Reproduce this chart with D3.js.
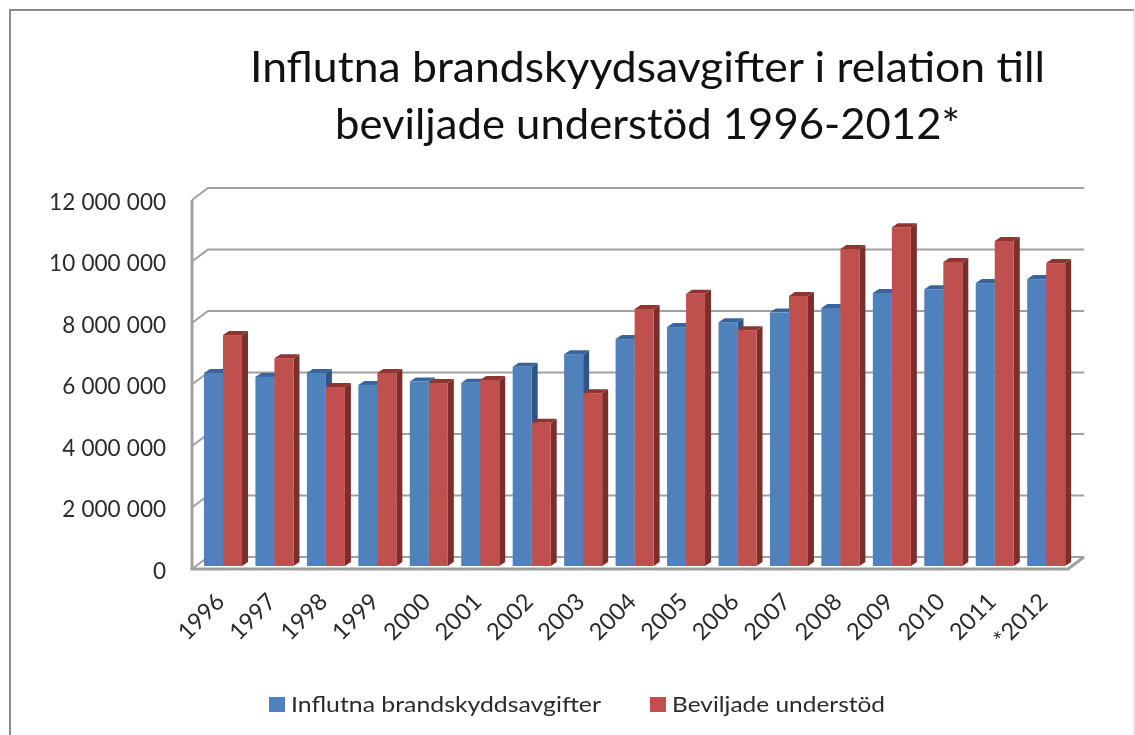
<!DOCTYPE html>
<html><head><meta charset="utf-8">
<script src="https://cdn.jsdelivr.net/npm/d3@7"></script>
<style>
html,body{margin:0;padding:0;background:#fff;overflow:hidden}
svg{display:block;filter:blur(0.45px)}
text{font-family:Lato,"Open Sans",sans-serif}
</style></head><body><svg id="c" width="1135" height="735"></svg>
<script>
const years=["1996","1997","1998","1999","2000","2001","2002","2003","2004","2005","2006","2007","2008","2009","2010","2011","*2012"];
const fees=[6280000,6150000,6280000,5890000,6000000,5960000,6480000,6890000,7380000,7770000,7930000,8240000,8390000,8880000,9000000,9200000,9330000];
const grants=[7510000,6760000,5820000,6280000,5950000,6050000,4660000,5620000,8360000,8850000,7670000,8780000,10310000,11020000,9890000,10570000,9850000];
const seriesNames=["Influtna brandskyddsavgifter","Beviljade understöd"];
const titleLines=["Influtna brandskyydsavgifter i relation till","beviljade understöd 1996-2012*"];
const yTicks=[0,2000000,4000000,6000000,8000000,10000000,12000000];

const C={blue:"#4f81bd",blueTop:"#39659a",blueSide:"#2f5486",red:"#c0504d",redTop:"#8f3431",redSide:"#7b2e2c",grid:"#a0a0a0",text:"#2b2b2b"};
const svg=d3.select("#c");
// frame
svg.append("path").attr("d","M1134,10H10V735").attr("fill","none").attr("stroke","#8c8c8c").attr("stroke-width",2);
svg.append("path").attr("d","M1134,10V735").attr("fill","none").attr("stroke","#d0d0d0").attr("stroke-width",1);
// title
const tl=[[250,82,795],[335,139,625]];
svg.selectAll(".t").data(titleLines).join("text").attr("class","t")
 .attr("x",(d,i)=>tl[i][0]).attr("y",(d,i)=>tl[i][1]).attr("textLength",(d,i)=>tl[i][2]).attr("lengthAdjust","spacingAndGlyphs")
 .attr("font-size",43).attr("fill","#111").text(d=>d);
// scales
const yF=d3.scaleLinear().domain([0,12000000]).range([569,200]);
const yB=d3.scaleLinear().domain([0,12000000]).range([566,197]);
const x=d3.scaleBand().domain(years).range([204,1065.2]).paddingInner(0.2614).paddingOuter(0);
const depth=16,rise=12,bd=6,br=4,xL=192,xR=1068;
// gridlines (wall)
const g=svg.append("g").attr("fill","none").attr("stroke",C.grid).attr("stroke-width",2);
g.selectAll(".gl").data(yTicks).join("path").attr("class","gl")
 .attr("d",v=>`M${xL},${yF(v)}L${xL+depth},${yF(v)-rise}H${xR+depth}`);
g.append("path").attr("d",`M${xL},${yF(12000000)}V${yF(0)}H${xR}L${xR+depth},${yF(0)-rise}`).attr("stroke-width",3);
// bars
const w=x.bandwidth()/2;
function bar(gr,x0,v,f,t,s){
  const yt=yB(v),yb=yB(0);
  gr.append("path").attr("fill",s).attr("d",`M${x0+w},${yt}L${x0+w+bd},${yt-br}V${yb-br}L${x0+w},${yb}Z`);
  gr.append("path").attr("fill",t).attr("d",`M${x0},${yt}L${x0+bd},${yt-br}H${x0+w+bd}L${x0+w},${yt}Z`);
  gr.append("rect").attr("fill",f).attr("x",x0).attr("y",yt).attr("width",w).attr("height",yb-yt);
}
const bars=svg.append("g");
years.forEach((yr,i)=>{
  bar(bars,x(yr),fees[i],C.blue,C.blueTop,C.blueSide);
  bar(bars,x(yr)+w,grants[i],C.red,C.redTop,C.redSide);
});
// y axis
const loc=d3.formatLocale({decimal:",",thousands:" ",grouping:[3],currency:["","" ]});
const ax=svg.append("g").attr("transform","translate(166,0)").call(d3.axisLeft(yF).tickValues(yTicks).tickSize(0).tickPadding(0).tickFormat(loc.format(",d")));
ax.select(".domain").remove();
ax.selectAll("text").attr("font-size",22.5).attr("font-family","Lato").attr("fill",C.text).attr("dy",null).attr("y",9).attr("x",0).attr("word-spacing",0.5);
// x labels
svg.selectAll(".xl").data(years).join("text").attr("class","xl")
 .attr("text-anchor","end").attr("font-size",23.5).attr("fill",C.text)
 .attr("transform",d=>`translate(${x(d)+22},${603}) rotate(-45)`).text(d=>d);
// legend
const lg=[[269,291,310],[650,672,213]];
seriesNames.forEach((n,i)=>{
  svg.append("rect").attr("x",lg[i][0]).attr("y",697).attr("width",16).attr("height",15).attr("fill",i?C.red:C.blue);
  svg.append("text").attr("x",lg[i][1]).attr("y",712).attr("font-size",22).attr("fill",C.text)
   .attr("textLength",lg[i][2]).attr("lengthAdjust","spacingAndGlyphs").text(n);
});
</script></body></html>
